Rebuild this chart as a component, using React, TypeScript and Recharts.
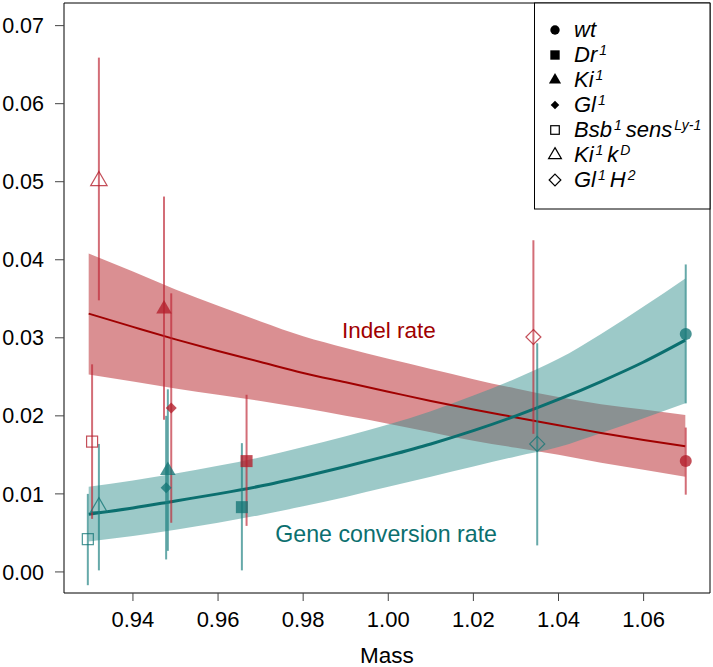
import React from 'react';
import {
  ComposedChart, Area, Line, Scatter, ErrorBar, XAxis, YAxis, ReferenceArea,
} from 'recharts';

// fitted curves + confidence bands
const fitMass = [0.9296, 0.94, 0.95, 0.96, 0.97, 0.98, 0.99, 1.0, 1.01, 1.02, 1.03, 1.04, 1.05, 1.06, 1.0698];
const indelFit = [0.0331, 0.0314, 0.0298, 0.0283, 0.0269, 0.0255, 0.0243, 0.0231, 0.0219, 0.0208, 0.0198, 0.0188, 0.0178, 0.0169, 0.0161];
const indelLo = [0.0253, 0.0244, 0.0235, 0.0227, 0.0219, 0.0210, 0.0200, 0.0190, 0.0179, 0.0168, 0.0159, 0.0150, 0.0140, 0.0131, 0.0122];
const indelHi = [0.0408, 0.0385, 0.0362, 0.0341, 0.0321, 0.0302, 0.0287, 0.0273, 0.0260, 0.0247, 0.0235, 0.0224, 0.0215, 0.0208, 0.0201];
const gcFit = [0.0074, 0.0082, 0.0091, 0.0100, 0.0110, 0.0122, 0.0135, 0.0149, 0.0164, 0.0181, 0.0200, 0.0221, 0.0244, 0.0269, 0.0297];
const gcLo = [0.0039, 0.0046, 0.0054, 0.0063, 0.0073, 0.0084, 0.0096, 0.0109, 0.0122, 0.0135, 0.0148, 0.0160, 0.0178, 0.0197, 0.0216];
const gcHi = [0.0109, 0.0117, 0.0126, 0.0136, 0.0147, 0.0160, 0.0174, 0.0189, 0.0206, 0.0226, 0.0248, 0.0273, 0.0305, 0.0340, 0.0376];

// strains: wt, Dr1, Ki1, Gl1, Bsb1 sensLy-1, Ki1 kD, Gl1 H2
const strainKinds = ['circle', 'square', 'triangle', 'diamond', 'squareOpen', 'triangleOpen', 'diamondOpen'];

const indelMass = [1.0699, 0.9667, 0.9473, 0.9490, 0.9304, 0.9320, 1.0341];
const indelRate = [0.0142, 0.0142, 0.0337, 0.0210, 0.0167, 0.0501, 0.0301];
const indelLow = [0.0099, 0.0059, 0.0195, 0.0063, 0.0068, 0.0348, 0.0177];
const indelHigh = [0.0185, 0.0227, 0.0481, 0.0357, 0.0266, 0.0659, 0.0425];

const gcMass = [1.0699, 0.9656, 0.9482, 0.9478, 0.9294, 0.9320, 1.0350];
const gcRate = [0.0305, 0.0083, 0.0130, 0.0108, 0.0042, 0.0083, 0.0164];
const gcLow = [0.0216, 0.0002, 0.0027, 0.0016, -0.0017, 0.0002, 0.0034];
const gcHigh = [0.0394, 0.0165, 0.0234, 0.0200, 0.0100, 0.0164, 0.0293];

const xTicks = [0.94, 0.96, 0.98, 1.0, 1.02, 1.04, 1.06];
const yTicks = [0, 0.01, 0.02, 0.03, 0.04, 0.05, 0.06, 0.07];

const X_DOMAIN: [number, number] = [0.9238, 1.0756];
const Y_DOMAIN: [number, number] = [-0.0027, 0.0729];

const FONT = '"Liberation Sans", Arial, Helvetica, sans-serif';
const RED_LINE = '#a00000';
const TEAL_LINE = '#0b6f6f';
const RED_BAND = 'rgb(181,31,37)';
const TEAL_BAND = 'rgb(57,147,145)';
const RED_PT = 'rgba(180,30,42,0.78)';
const TEAL_PT = 'rgba(20,118,118,0.78)';
const RED_BAR = 'rgba(190,40,55,0.68)';
const TEAL_BAR = 'rgba(30,128,128,0.68)';

const fitRows = fitMass.map((m, i) => ({
  m,
  indel: indelFit[i],
  indelBand: [indelLo[i], indelHi[i]],
  gc: gcFit[i],
  gcBand: [gcLo[i], gcHi[i]],
}));

const indelPoints = strainKinds.map((kind, i) => ({
  m: indelMass[i],
  rate: indelRate[i],
  err: [indelRate[i] - indelLow[i], indelHigh[i] - indelRate[i]],
  kind,
}));

const gcPoints = strainKinds.map((kind, i) => ({
  m: gcMass[i],
  rate: gcRate[i],
  err: [gcRate[i] - gcLow[i], gcHigh[i] - gcRate[i]],
  kind,
}));

function Symbol({ cx, cy, kind, color, big }: any) {
  if (cx == null || cy == null) return null;
  const s = big ? 1 : 0.78;
  switch (kind) {
    case 'circle':
      return <circle cx={cx} cy={cy} r={6 * s} fill={color} />;
    case 'square': {
      const h = 6 * s;
      return <rect x={cx - h} y={cy - h} width={2 * h} height={2 * h} fill={color} />;
    }
    case 'triangle': {
      const r = 9 * s, w = r * 0.866;
      return <polygon points={`${cx},${cy - r} ${cx + w},${cy + r / 2} ${cx - w},${cy + r / 2}`} fill={color} />;
    }
    case 'diamond': {
      const r = 5.5 * s;
      return <polygon points={`${cx},${cy - r} ${cx + r},${cy} ${cx},${cy + r} ${cx - r},${cy}`} fill={color} />;
    }
    case 'squareOpen': {
      const h = 5.5 * s;
      return <rect x={cx - h} y={cy - h} width={2 * h} height={2 * h} fill="none" stroke={color} strokeWidth={1.2} />;
    }
    case 'triangleOpen': {
      const r = 9.5 * s, w = r * 0.866;
      return <polygon points={`${cx},${cy - r} ${cx + w},${cy + r / 2} ${cx - w},${cy + r / 2}`} fill="none" stroke={color} strokeWidth={1.2} />;
    }
    case 'diamondOpen': {
      const r = 7.5 * s;
      return <polygon points={`${cx},${cy - r} ${cx + r},${cy} ${cx},${cy + r} ${cx - r},${cy}`} fill="none" stroke={color} strokeWidth={1.2} />;
    }
    default:
      return null;
  }
}

const legendRows: { kind: string; parts: [string, string][] }[] = [
  { kind: 'circle', parts: [['wt', '']] },
  { kind: 'square', parts: [['Dr', '1']] },
  { kind: 'triangle', parts: [['Ki', '1']] },
  { kind: 'diamond', parts: [['Gl', '1']] },
  { kind: 'squareOpen', parts: [['Bsb', '1'], ['sens', 'Ly-1']] },
  { kind: 'triangleOpen', parts: [['Ki', '1'], ['k', 'D']] },
  { kind: 'diamondOpen', parts: [['Gl', '1'], ['H', '2']] },
];

function Overlay() {
  return (
    <svg width={713} height={667} style={{ position: 'absolute', left: 0, top: 0, pointerEvents: 'none' }}>
      <rect x={534.5} y={3} width={175.5} height={206} fill="#fff" stroke="#000" strokeWidth={1} />
      {legendRows.map((row, i) => {
        const base = 37 + 25 * i;
        return (
          <g key={i}>
            <Symbol cx={555} cy={base - 7} kind={row.kind} color="#000" />
            <text x={574} y={base} fontFamily={FONT} fontSize={22} fontStyle="italic" fill="#000">
              {row.parts.map(([main, sup], j) => (
                <React.Fragment key={j}>
                  <tspan dx={j > 0 ? 4 : 0} dy={j > 0 ? 7 : 0}>{main}</tspan>
                  {sup ? <tspan dx={2} fontSize={14} dy={-7}>{sup}</tspan> : null}
                </React.Fragment>
              ))}
            </text>
          </g>
        );
      })}
      <text x={342} y={338} fontFamily={FONT} fontSize={22.5} fill={RED_LINE}>Indel rate</text>
      <text x={497} y={542} textAnchor="end" fontFamily={FONT} fontSize={23.2} fill={TEAL_LINE}>Gene conversion rate</text>
    </svg>
  );
}

export default function App() {
  return (
    <div style={{ position: 'absolute', left: 0, top: 0, width: 713, height: 667, background: '#fff' }}>
      <ComposedChart
        width={713}
        height={667}
        data={fitRows}
        margin={{ top: 3, right: 3, left: 0, bottom: 0 }}
      >
        <XAxis
          dataKey="m"
          type="number"
          domain={X_DOMAIN}
          allowDataOverflow
          ticks={xTicks}
          interval={0}
          tickFormatter={(v: number) => v.toFixed(2)}
          height={74}
          axisLine={false}
          tickSize={8}
          tickMargin={10}
          tickLine={{ stroke: '#444' }}
          tick={{ fill: '#000', fontSize: 22, fontFamily: FONT }}
          label={{ value: 'Mass', position: 'insideBottom', offset: 4, fill: '#000', fontSize: 22.5, fontFamily: FONT }}
        />
        <YAxis
          type="number"
          domain={Y_DOMAIN}
          allowDataOverflow
          ticks={yTicks}
          interval={0}
          tickFormatter={(v: number) => v.toFixed(2)}
          width={64}
          axisLine={false}
          tickSize={9}
          tickMargin={11}
          tickLine={{ stroke: '#444' }}
          tick={{ fill: '#000', fontSize: 21.5, fontFamily: FONT }}
        />
        <Area dataKey="indelBand" type="monotone" stroke="none" fill={RED_BAND} fillOpacity={0.5} isAnimationActive={false} />
        <Area dataKey="gcBand" type="monotone" stroke="none" fill={TEAL_BAND} fillOpacity={0.5} isAnimationActive={false} />
        <Line dataKey="indel" type="monotone" stroke={RED_LINE} strokeWidth={2} dot={false} isAnimationActive={false} />
        <Line dataKey="gc" type="monotone" stroke={TEAL_LINE} strokeWidth={3} dot={false} isAnimationActive={false} />
        <Scatter
          data={gcPoints}
          dataKey="rate"
          isAnimationActive={false}
          shape={(p: any) => <Symbol cx={p.cx} cy={p.cy} kind={p.payload.kind} color={TEAL_PT} big />}
        >
          <ErrorBar dataKey="err" direction="y" width={0} stroke={TEAL_BAR} strokeWidth={2} />
        </Scatter>
        <Scatter
          data={indelPoints}
          dataKey="rate"
          isAnimationActive={false}
          shape={(p: any) => <Symbol cx={p.cx} cy={p.cy} kind={p.payload.kind} color={RED_PT} big />}
        >
          <ErrorBar dataKey="err" direction="y" width={0} stroke={RED_BAR} strokeWidth={2} />
        </Scatter>
        <ReferenceArea
          x1={X_DOMAIN[0]}
          x2={X_DOMAIN[1]}
          y1={Y_DOMAIN[0]}
          y2={Y_DOMAIN[1]}
          fill="none"
          stroke="#000"
          strokeWidth={1}
          ifOverflow="visible"
        />
      </ComposedChart>
      <Overlay />
    </div>
  );
}
